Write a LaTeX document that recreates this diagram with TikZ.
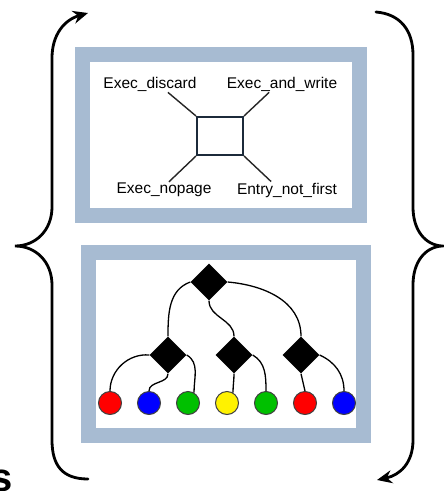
\documentclass[tikz,border=0pt]{standalone}
\usepackage{fontspec}
\setmainfont{Liberation Sans}
\usetikzlibrary{shapes.geometric, arrows.meta, positioning, calc}
\usepackage{xcolor}
\definecolor{frameblue}{HTML}{A7BBD2}
\definecolor{boxnavy}{HTML}{1C2A3A}
\definecolor{leafgreen}{HTML}{00C000}

\begin{document}
\begin{tikzpicture}[
        x=1pt, y=-1pt,
        panel/.style={rectangle, draw=frameblue, line width=15pt, fill=white, inner sep=0pt},
        portbox/.style={rectangle, draw=boxnavy, line width=2pt, minimum width=46pt, minimum height=38pt, inner sep=0pt},
        port/.style={font=\fontsize{15.5}{18}\selectfont, inner sep=1pt},
        wire/.style={line width=1.4pt, draw=black!85},
        split/.style={diamond, fill=black, minimum size=37pt, inner sep=0pt},
        leaf/.style={circle, draw=black!75, line width=1pt, minimum size=23pt, inner sep=0pt},
        branch/.style={line width=1.3pt},
        brace/.style={line width=2.8pt, line cap=round},
        turn/.style={brace, -{Stealth[length=15pt, width=13pt]}}
    ]
        \useasboundingbox (0,0) rectangle (444,491);

        % the two framed panels
        \node [panel, minimum width=277pt, minimum height=161pt] (flagpanel) at (221,135) {};
        \node [panel, minimum width=275pt, minimum height=183pt] (treepanel) at (226,344) {};

        % entry box with its four ports
        \node [portbox] (entry) at (220,136) {};
        \node [port] (discard) at (150,84) {Exec\_discard};
        \node [port] (andwrite) at (282,84) {Exec\_and\_write};
        \node [port] (nopage) at (164,190) {Exec\_nopage};
        \node [port] (notfirst) at (287,190) {Entry\_not\_first};

        \draw [wire] (entry.north west) -- (discard.-25);
        \draw [wire] (entry.north east) -- (andwrite.-147);
        \draw [wire] (entry.south west) -- (nopage.59);
        \draw [wire] (entry.south east) -- (notfirst.152);

        % split tree
        \node [split] (root) at (209,282) {};
        \node [split] (lsplit) at (168,355) {};
        \node [split] (msplit) at (234,355) {};
        \node [split] (rsplit) at (301,355) {};

        \node [leaf, fill=red] (leafa) at (110,403) {};
        \node [leaf, fill=blue, right=15pt of leafa] (leafb) {};
        \node [leaf, fill=leafgreen, right=15pt of leafb] (leafc) {};
        \node [leaf, fill=yellow, right=15pt of leafc] (leafd) {};
        \node [leaf, fill=leafgreen, right=15pt of leafd] (leafe) {};
        \node [leaf, fill=red, right=15pt of leafe] (leaff) {};
        \node [leaf, fill=blue, right=15pt of leaff] (leafg) {};

        \draw [branch] (root.west) to[out=-160, in=90] (lsplit.north);
        \draw [branch] (root.south) to[out=-90, in=90] (msplit.north);
        \draw [branch] (root.east) to[out=-5, in=90] (rsplit.north);

        \draw [branch] (lsplit.west) to[out=175, in=90] (leafa.north);
        \draw [branch] (lsplit.south) to[out=-90, in=90] (leafb.north);
        \draw [branch] (lsplit.east) to[out=-30, in=90] (leafc.60);
        \draw [branch] (msplit.south) to[out=-90, in=90] (leafd.60);
        \draw [branch] (msplit.east) to[out=-30, in=90] (leafe.north);
        \draw [branch] (rsplit.south) -- (leaff.north);
        \draw [branch] (rsplit.east) to[out=-25, in=90] (leafg.north);

        % braces turned into a loop
        \draw [turn] (88,479) .. controls (62,479) and (52,465) .. (52,440) -- (52,285)
            .. controls (52,262) and (36,246) .. (15,246) .. controls (36,246) and (52,230) .. (52,207)
            -- (52,58) .. controls (52,35) and (64,20) .. (88,13);
        \draw [turn] (376,12) .. controls (400,14) and (413,30) .. (413,55) -- (413,207)
            .. controls (413,230) and (425,245) .. (442,246) .. controls (425,247) and (413,262) .. (413,285)
            -- (413,440) .. controls (413,463) and (400,475) .. (377,480);

        \node [font=\fontsize{40}{40}\selectfont\bfseries, inner sep=0pt, anchor=base east] (tail) at (13,491) {s};
    \end{tikzpicture}
\end{document}
